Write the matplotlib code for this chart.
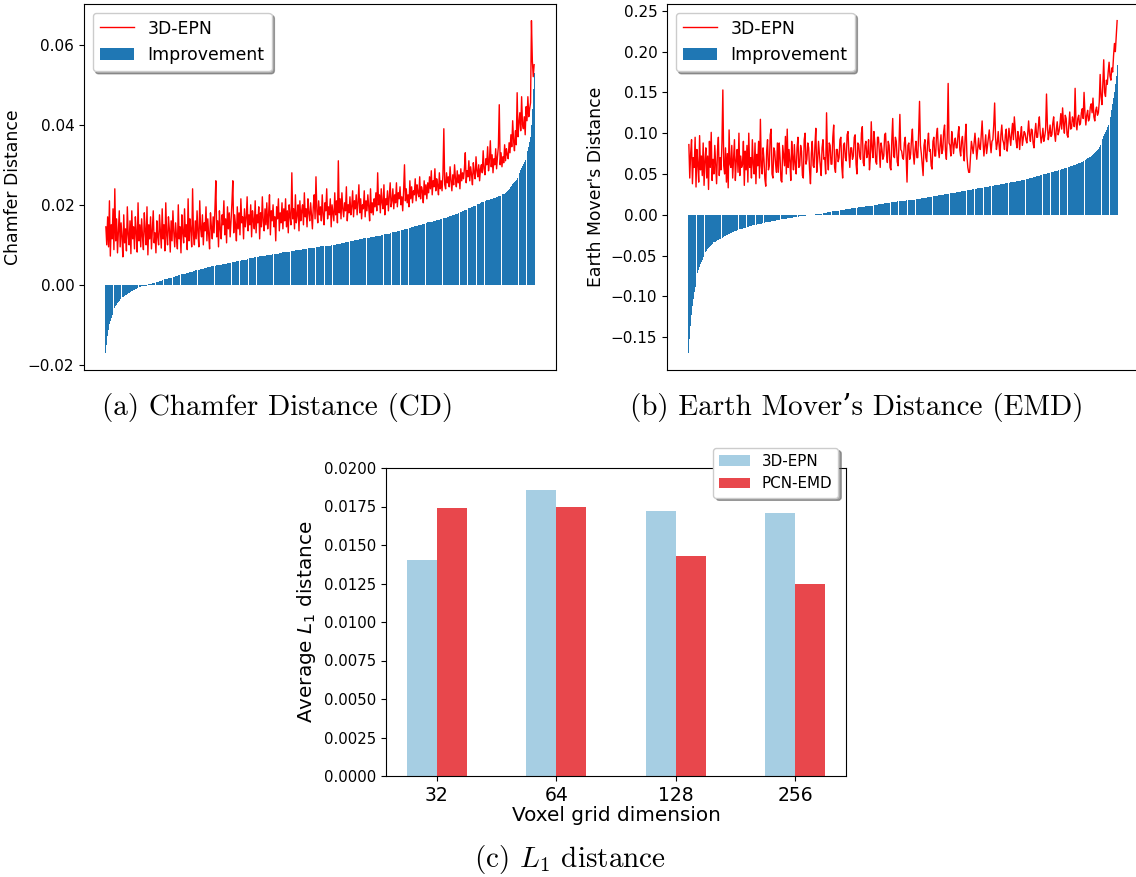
import numpy as np
import matplotlib
matplotlib.use("Agg")
import matplotlib.pyplot as plt
from matplotlib.ticker import FormatStrFormatter

# ---- Chamfer Distance: per-shape improvement (sorted) and 3D-EPN error
cd_improvement = [
    -0.0171, -0.0150, -0.0128, -0.0112, -0.0098, -0.0090, -0.0082, -0.0075, -0.0068, -0.0062, -0.0057, -0.0053, -0.0049, -0.0045, -0.0042, -0.0039, -0.0036, -0.0034, -0.0032, -0.0030,
    -0.0029, -0.0027, -0.0026, -0.0024, -0.0023, -0.0021, -0.0020, -0.0018, -0.0017, -0.0015, -0.0014, -0.0013, -0.0012, -0.0011, -0.0010, -0.0009, -0.0008, -0.0007, -0.0006, -0.0005,
    -0.0004, -0.0004, -0.0003, -0.0003, -0.0002, -0.0002, -0.0001, 0.0000, 0.0001, 0.0002, 0.0003, 0.0003, 0.0004, 0.0005, 0.0005, 0.0006, 0.0007, 0.0007, 0.0008, 0.0008,
    0.0009, 0.0009, 0.0010, 0.0011, 0.0012, 0.0013, 0.0014, 0.0014, 0.0015, 0.0015, 0.0016, 0.0016, 0.0017, 0.0017, 0.0018, 0.0019, 0.0020, 0.0020, 0.0021, 0.0022,
    0.0023, 0.0024, 0.0025, 0.0025, 0.0026, 0.0026, 0.0027, 0.0027, 0.0028, 0.0028, 0.0029, 0.0029, 0.0030, 0.0031, 0.0032, 0.0032, 0.0033, 0.0033, 0.0034, 0.0035,
    0.0036, 0.0036, 0.0037, 0.0037, 0.0038, 0.0038, 0.0039, 0.0039, 0.0040, 0.0040, 0.0041, 0.0041, 0.0042, 0.0043, 0.0044, 0.0044, 0.0045, 0.0045, 0.0046, 0.0046,
    0.0047, 0.0047, 0.0048, 0.0048, 0.0049, 0.0049, 0.0050, 0.0050, 0.0050, 0.0050, 0.0051, 0.0051, 0.0052, 0.0052, 0.0053, 0.0053, 0.0054, 0.0054, 0.0055, 0.0055,
    0.0056, 0.0056, 0.0057, 0.0057, 0.0058, 0.0058, 0.0059, 0.0059, 0.0059, 0.0059, 0.0060, 0.0060, 0.0061, 0.0061, 0.0062, 0.0062, 0.0063, 0.0063, 0.0064, 0.0065,
    0.0066, 0.0066, 0.0067, 0.0067, 0.0068, 0.0068, 0.0069, 0.0069, 0.0069, 0.0069, 0.0070, 0.0070, 0.0071, 0.0071, 0.0071, 0.0071, 0.0072, 0.0072, 0.0073, 0.0073,
    0.0074, 0.0074, 0.0075, 0.0075, 0.0075, 0.0075, 0.0076, 0.0076, 0.0077, 0.0077, 0.0077, 0.0077, 0.0078, 0.0078, 0.0079, 0.0079, 0.0080, 0.0080, 0.0081, 0.0081,
    0.0082, 0.0082, 0.0082, 0.0082, 0.0083, 0.0083, 0.0084, 0.0084, 0.0084, 0.0084, 0.0085, 0.0085, 0.0086, 0.0086, 0.0086, 0.0086, 0.0087, 0.0087, 0.0088, 0.0088,
    0.0089, 0.0089, 0.0089, 0.0089, 0.0090, 0.0090, 0.0091, 0.0091, 0.0091, 0.0091, 0.0092, 0.0092, 0.0093, 0.0093, 0.0093, 0.0093, 0.0094, 0.0094, 0.0095, 0.0095,
    0.0096, 0.0096, 0.0096, 0.0096, 0.0097, 0.0097, 0.0097, 0.0097, 0.0098, 0.0098, 0.0098, 0.0098, 0.0099, 0.0099, 0.0100, 0.0100, 0.0100, 0.0100, 0.0101, 0.0101,
    0.0102, 0.0102, 0.0103, 0.0103, 0.0104, 0.0104, 0.0105, 0.0105, 0.0106, 0.0106, 0.0107, 0.0107, 0.0108, 0.0108, 0.0109, 0.0109, 0.0110, 0.0110, 0.0111, 0.0111,
    0.0112, 0.0112, 0.0113, 0.0113, 0.0114, 0.0114, 0.0115, 0.0115, 0.0116, 0.0116, 0.0116, 0.0116, 0.0117, 0.0117, 0.0118, 0.0118, 0.0119, 0.0119, 0.0120, 0.0120,
    0.0120, 0.0120, 0.0121, 0.0121, 0.0122, 0.0122, 0.0123, 0.0123, 0.0124, 0.0124, 0.0125, 0.0125, 0.0126, 0.0126, 0.0127, 0.0127, 0.0128, 0.0128, 0.0129, 0.0130,
    0.0131, 0.0131, 0.0132, 0.0132, 0.0133, 0.0133, 0.0134, 0.0134, 0.0135, 0.0135, 0.0136, 0.0136, 0.0137, 0.0138, 0.0139, 0.0139, 0.0140, 0.0140, 0.0141, 0.0142,
    0.0143, 0.0143, 0.0144, 0.0144, 0.0145, 0.0146, 0.0147, 0.0147, 0.0148, 0.0148, 0.0149, 0.0149, 0.0150, 0.0150, 0.0151, 0.0152, 0.0153, 0.0153, 0.0154, 0.0155,
    0.0156, 0.0156, 0.0157, 0.0157, 0.0158, 0.0158, 0.0159, 0.0159, 0.0160, 0.0160, 0.0161, 0.0162, 0.0163, 0.0163, 0.0164, 0.0164, 0.0165, 0.0165, 0.0166, 0.0167,
    0.0168, 0.0168, 0.0169, 0.0170, 0.0171, 0.0171, 0.0172, 0.0173, 0.0174, 0.0174, 0.0175, 0.0176, 0.0177, 0.0178, 0.0179, 0.0180, 0.0181, 0.0182, 0.0183, 0.0184,
    0.0185, 0.0186, 0.0187, 0.0188, 0.0189, 0.0190, 0.0191, 0.0192, 0.0193, 0.0194, 0.0195, 0.0196, 0.0197, 0.0198, 0.0199, 0.0200, 0.0201, 0.0202, 0.0203, 0.0205,
    0.0206, 0.0207, 0.0208, 0.0208, 0.0209, 0.0210, 0.0211, 0.0211, 0.0212, 0.0213, 0.0214, 0.0214, 0.0215, 0.0216, 0.0217, 0.0217, 0.0218, 0.0219, 0.0220, 0.0221,
    0.0222, 0.0223, 0.0224, 0.0225, 0.0226, 0.0227, 0.0228, 0.0230, 0.0233, 0.0235, 0.0238, 0.0240, 0.0243, 0.0245, 0.0248, 0.0251, 0.0254, 0.0257, 0.0260, 0.0263,
    0.0266, 0.0270, 0.0275, 0.0280, 0.0286, 0.0292, 0.0298, 0.0303, 0.0308, 0.0313, 0.0318, 0.0326, 0.0335, 0.0345, 0.0356, 0.0370, 0.0400, 0.0440, 0.0490, 0.0530,
]

cd_epn = [
    0.0145, 0.0100, 0.0170, 0.0095, 0.0210, 0.0072, 0.0150, 0.0115, 0.0190, 0.0088, 0.0240, 0.0110, 0.0165, 0.0080, 0.0135, 0.0185, 0.0095, 0.0155, 0.0120, 0.0070,
    0.0175, 0.0105, 0.0140, 0.0085, 0.0195, 0.0125, 0.0100, 0.0160, 0.0078, 0.0185, 0.0115, 0.0145, 0.0090, 0.0170, 0.0130, 0.0082, 0.0205, 0.0110, 0.0150, 0.0095,
    0.0165, 0.0120, 0.0088, 0.0180, 0.0135, 0.0100, 0.0195, 0.0075, 0.0150, 0.0115, 0.0170, 0.0090, 0.0140, 0.0185, 0.0105, 0.0130, 0.0080, 0.0160, 0.0120, 0.0100,
    0.0175, 0.0135, 0.0092, 0.0190, 0.0115, 0.0150, 0.0085, 0.0205, 0.0125, 0.0100, 0.0170, 0.0140, 0.0082, 0.0160, 0.0110, 0.0185, 0.0130, 0.0095, 0.0155, 0.0120,
    0.0090, 0.0200, 0.0115, 0.0145, 0.0080, 0.0175, 0.0130, 0.0105, 0.0190, 0.0120, 0.0150, 0.0088, 0.0215, 0.0110, 0.0165, 0.0135, 0.0095, 0.0240, 0.0125, 0.0100,
    0.0160, 0.0115, 0.0185, 0.0130, 0.0095, 0.0210, 0.0140, 0.0120, 0.0175, 0.0100, 0.0155, 0.0135, 0.0195, 0.0110, 0.0165, 0.0125, 0.0090, 0.0180, 0.0145, 0.0115,
    0.0170, 0.0130, 0.0190, 0.0260, 0.0120, 0.0160, 0.0095, 0.0185, 0.0140, 0.0115, 0.0175, 0.0150, 0.0210, 0.0125, 0.0165, 0.0105, 0.0195, 0.0140, 0.0180, 0.0120,
    0.0160, 0.0205, 0.0260, 0.0130, 0.0175, 0.0150, 0.0110, 0.0195, 0.0140, 0.0180, 0.0125, 0.0215, 0.0155, 0.0170, 0.0115, 0.0190, 0.0145, 0.0165, 0.0220, 0.0135,
    0.0175, 0.0150, 0.0200, 0.0120, 0.0185, 0.0160, 0.0140, 0.0210, 0.0130, 0.0175, 0.0155, 0.0195, 0.0115, 0.0180, 0.0145, 0.0220, 0.0160, 0.0135, 0.0190, 0.0150,
    0.0205, 0.0140, 0.0175, 0.0225, 0.0125, 0.0185, 0.0160, 0.0200, 0.0145, 0.0170, 0.0110, 0.0195, 0.0165, 0.0215, 0.0135, 0.0180, 0.0155, 0.0205, 0.0140, 0.0190,
    0.0160, 0.0215, 0.0145, 0.0185, 0.0130, 0.0200, 0.0170, 0.0150, 0.0280, 0.0165, 0.0190, 0.0140, 0.0225, 0.0155, 0.0175, 0.0200, 0.0135, 0.0210, 0.0160, 0.0185,
    0.0200, 0.0150, 0.0230, 0.0170, 0.0190, 0.0145, 0.0215, 0.0180, 0.0160, 0.0205, 0.0175, 0.0140, 0.0195, 0.0225, 0.0165, 0.0270, 0.0185, 0.0155, 0.0210, 0.0175,
    0.0195, 0.0160, 0.0225, 0.0175, 0.0150, 0.0205, 0.0185, 0.0240, 0.0165, 0.0195, 0.0175, 0.0215, 0.0145, 0.0200, 0.0180, 0.0160, 0.0230, 0.0175, 0.0210, 0.0155,
    0.0310, 0.0180, 0.0215, 0.0165, 0.0230, 0.0190, 0.0170, 0.0205, 0.0185, 0.0245, 0.0160, 0.0200, 0.0180, 0.0220, 0.0175, 0.0195, 0.0235, 0.0170, 0.0210, 0.0190,
    0.0225, 0.0175, 0.0205, 0.0250, 0.0180, 0.0215, 0.0165, 0.0200, 0.0190, 0.0235, 0.0170, 0.0210, 0.0185, 0.0225, 0.0195, 0.0160, 0.0240, 0.0180, 0.0205, 0.0175,
    0.0215, 0.0195, 0.0230, 0.0185, 0.0280, 0.0200, 0.0225, 0.0180, 0.0240, 0.0205, 0.0190, 0.0250, 0.0175, 0.0215, 0.0200, 0.0235, 0.0185, 0.0220, 0.0255, 0.0195,
    0.0210, 0.0240, 0.0190, 0.0225, 0.0205, 0.0255, 0.0195, 0.0230, 0.0215, 0.0245, 0.0200, 0.0220, 0.0185, 0.0235, 0.0300, 0.0210, 0.0240, 0.0205, 0.0225, 0.0195,
    0.0260, 0.0215, 0.0245, 0.0205, 0.0235, 0.0225, 0.0265, 0.0210, 0.0250, 0.0230, 0.0220, 0.0270, 0.0215, 0.0245, 0.0235, 0.0205, 0.0260, 0.0225, 0.0250, 0.0215,
    0.0255, 0.0230, 0.0270, 0.0240, 0.0285, 0.0225, 0.0260, 0.0245, 0.0290, 0.0235, 0.0265, 0.0250, 0.0225, 0.0280, 0.0240, 0.0260, 0.0235, 0.0275, 0.0390, 0.0250,
    0.0240, 0.0280, 0.0255, 0.0270, 0.0245, 0.0295, 0.0260, 0.0235, 0.0275, 0.0250, 0.0300, 0.0265, 0.0245, 0.0285, 0.0255, 0.0275, 0.0240, 0.0290, 0.0260, 0.0280,
    0.0265, 0.0290, 0.0330, 0.0255, 0.0285, 0.0270, 0.0310, 0.0260, 0.0295, 0.0275, 0.0250, 0.0305, 0.0280, 0.0265, 0.0320, 0.0285, 0.0270, 0.0300, 0.0260, 0.0290,
    0.0300, 0.0280, 0.0335, 0.0290, 0.0275, 0.0315, 0.0300, 0.0345, 0.0285, 0.0310, 0.0360, 0.0295, 0.0325, 0.0280, 0.0315, 0.0300, 0.0340, 0.0290, 0.0320, 0.0345,
    0.0450, 0.0300, 0.0330, 0.0295, 0.0320, 0.0305, 0.0350, 0.0310, 0.0340, 0.0325, 0.0315, 0.0355, 0.0330, 0.0375, 0.0345, 0.0410, 0.0360, 0.0335, 0.0385, 0.0350,
    0.0480, 0.0370, 0.0405, 0.0430, 0.0385, 0.0470, 0.0400, 0.0390, 0.0420, 0.0375, 0.0445, 0.0410, 0.0470, 0.0420, 0.0440, 0.0455, 0.0660, 0.0560, 0.0520, 0.0550,
]

# ---- Earth Mover's Distance: per-shape improvement (sorted) and 3D-EPN error
emd_improvement = [
    -0.170, -0.152, -0.136, -0.123, -0.112, -0.103, -0.095, -0.089, -0.083, -0.077, -0.072, -0.068, -0.064, -0.061, -0.058, -0.055, -0.052, -0.050, -0.048, -0.046,
    -0.044, -0.0425, -0.041, -0.0395, -0.038, -0.037, -0.036, -0.035, -0.034, -0.0335, -0.033, -0.032, -0.031, -0.0305, -0.030, -0.0295, -0.029, -0.0285, -0.028, -0.027,
    -0.026, -0.0255, -0.025, -0.0245, -0.024, -0.0235, -0.023, -0.0225, -0.022, -0.0215, -0.021, -0.0205, -0.020, -0.0195, -0.019, -0.0185, -0.018, -0.018, -0.018, -0.0175,
    -0.017, -0.0165, -0.016, -0.0158, -0.0155, -0.0152, -0.015, -0.0145, -0.014, -0.0138, -0.0135, -0.0132, -0.013, -0.0128, -0.0125, -0.0122, -0.012, -0.0118, -0.0115, -0.0112,
    -0.011, -0.0108, -0.0105, -0.0102, -0.010, -0.0098, -0.0095, -0.0092, -0.009, -0.0088, -0.0086, -0.0084, -0.0082, -0.0080, -0.0078, -0.0076, -0.0074, -0.0072, -0.0070, -0.0068,
    -0.0066, -0.0064, -0.0062, -0.0060, -0.0058, -0.0056, -0.0054, -0.0052, -0.0050, -0.0048, -0.0045, -0.0044, -0.0042, -0.0040, -0.0038, -0.0036, -0.0035, -0.0033, -0.0031, -0.0030,
    -0.0028, -0.0026, -0.0025, -0.0023, -0.0021, -0.0020, -0.0018, -0.0016, -0.0015, -0.0013, -0.0012, -0.0010, -0.0009, -0.0007, -0.0006, -0.0004, -0.0003, -0.0001, 0.0000, 0.0001,
    0.0003, 0.0004, 0.0006, 0.0007, 0.0009, 0.0010, 0.0012, 0.0013, 0.0015, 0.0017, 0.0019, 0.0021, 0.0023, 0.0025, 0.0027, 0.0029, 0.0031, 0.0033, 0.0035, 0.0036,
    0.0038, 0.0040, 0.0041, 0.0043, 0.0044, 0.0046, 0.0048, 0.0050, 0.0052, 0.0054, 0.0056, 0.0058, 0.0060, 0.0062, 0.0064, 0.0066, 0.0068, 0.0070, 0.0072, 0.0073,
    0.0075, 0.0076, 0.0078, 0.0079, 0.0081, 0.0082, 0.0084, 0.0085, 0.0087, 0.0088, 0.0090, 0.0091, 0.0093, 0.0094, 0.0096, 0.0098, 0.0100, 0.0101, 0.0103, 0.0104,
    0.0106, 0.0107, 0.0109, 0.0110, 0.0112, 0.0113, 0.0115, 0.0117, 0.0119, 0.0121, 0.0123, 0.0124, 0.0126, 0.0128, 0.0130, 0.0132, 0.0134, 0.0135, 0.0137, 0.0139,
    0.0141, 0.0142, 0.0144, 0.0146, 0.0148, 0.0149, 0.0151, 0.0153, 0.0155, 0.0156, 0.0158, 0.0160, 0.0162, 0.0163, 0.0164, 0.0165, 0.0167, 0.0168, 0.0169, 0.0170,
    0.0171, 0.0172, 0.0174, 0.0175, 0.0176, 0.0177, 0.0178, 0.0179, 0.0180, 0.0181, 0.0183, 0.0184, 0.0186, 0.0188, 0.0190, 0.0191, 0.0193, 0.0195, 0.0197, 0.0198,
    0.0200, 0.0201, 0.0203, 0.0205, 0.0207, 0.0208, 0.0210, 0.0212, 0.0214, 0.0216, 0.0218, 0.0220, 0.0222, 0.0224, 0.0226, 0.0228, 0.0230, 0.0232, 0.0234, 0.0236,
    0.0238, 0.0240, 0.0242, 0.0244, 0.0246, 0.0248, 0.0250, 0.0251, 0.0253, 0.0255, 0.0257, 0.0258, 0.0260, 0.0262, 0.0264, 0.0266, 0.0268, 0.0270, 0.0272, 0.0274,
    0.0276, 0.0278, 0.0280, 0.0282, 0.0284, 0.0286, 0.0288, 0.0290, 0.0292, 0.0294, 0.0296, 0.0298, 0.0300, 0.0302, 0.0304, 0.0306, 0.0308, 0.0310, 0.0312, 0.0314,
    0.0316, 0.0318, 0.0320, 0.0322, 0.0324, 0.0326, 0.0328, 0.0330, 0.0332, 0.0334, 0.0336, 0.0338, 0.0340, 0.0342, 0.0344, 0.0346, 0.0348, 0.0350, 0.0352, 0.0354,
    0.0356, 0.0358, 0.0360, 0.0362, 0.0364, 0.0366, 0.0368, 0.0370, 0.0372, 0.0374, 0.0376, 0.0378, 0.0380, 0.0382, 0.0384, 0.0386, 0.0388, 0.0390, 0.0392, 0.0394,
    0.0396, 0.0398, 0.0400, 0.0402, 0.0404, 0.0406, 0.0408, 0.0410, 0.0412, 0.0414, 0.0416, 0.0418, 0.0420, 0.0423, 0.0426, 0.0429, 0.0432, 0.0435, 0.0438, 0.0441,
    0.0444, 0.0447, 0.0450, 0.0453, 0.0456, 0.0459, 0.0462, 0.0465, 0.0468, 0.0471, 0.0474, 0.0477, 0.0480, 0.0483, 0.0486, 0.0489, 0.0492, 0.0495, 0.0498, 0.0501,
    0.0504, 0.0507, 0.0510, 0.0513, 0.0516, 0.0519, 0.0522, 0.0525, 0.0528, 0.0531, 0.0534, 0.0537, 0.0540, 0.0544, 0.0547, 0.0551, 0.0554, 0.0558, 0.0561, 0.0565,
    0.0568, 0.0572, 0.0575, 0.0579, 0.0582, 0.0586, 0.0589, 0.0593, 0.0596, 0.0600, 0.0604, 0.0608, 0.0612, 0.0616, 0.0620, 0.0625, 0.0630, 0.0635, 0.0640, 0.0646,
    0.0652, 0.0658, 0.0664, 0.0670, 0.0676, 0.0683, 0.0690, 0.0697, 0.0705, 0.0712, 0.0720, 0.0730, 0.0740, 0.0750, 0.0760, 0.0772, 0.0785, 0.0797, 0.0810, 0.0830,
    0.0850, 0.0875, 0.0900, 0.0930, 0.0960, 0.0985, 0.1010, 0.1040, 0.1070, 0.1095, 0.1120, 0.1160, 0.1200, 0.1280, 0.1360, 0.1430, 0.1500, 0.1600, 0.1700, 0.1830,
]

emd_epn = [
    0.086, 0.045, 0.075, 0.092, 0.038, 0.070, 0.058, 0.095, 0.034, 0.080, 0.062, 0.040, 0.097, 0.055, 0.072, 0.048, 0.088, 0.036, 0.066, 0.082,
    0.045, 0.072, 0.031, 0.090, 0.058, 0.101, 0.042, 0.068, 0.050, 0.085, 0.060, 0.038, 0.078, 0.095, 0.048, 0.070, 0.055, 0.088, 0.153, 0.060,
    0.050, 0.082, 0.040, 0.075, 0.033, 0.104, 0.062, 0.058, 0.085, 0.045, 0.070, 0.092, 0.042, 0.066, 0.080, 0.052, 0.100, 0.048, 0.072, 0.058,
    0.062, 0.090, 0.036, 0.078, 0.055, 0.085, 0.040, 0.100, 0.058, 0.070, 0.045, 0.092, 0.062, 0.050, 0.088, 0.038, 0.074, 0.060, 0.090, 0.045,
    0.117, 0.060, 0.050, 0.082, 0.068, 0.044, 0.035, 0.078, 0.092, 0.055, 0.060, 0.098, 0.105, 0.050, 0.045, 0.082, 0.078, 0.062, 0.052, 0.088,
    0.052, 0.088, 0.070, 0.042, 0.040, 0.085, 0.072, 0.060, 0.096, 0.050, 0.105, 0.058, 0.080, 0.065, 0.042, 0.090, 0.070, 0.055, 0.086, 0.062,
    0.050, 0.082, 0.095, 0.058, 0.060, 0.085, 0.078, 0.048, 0.045, 0.092, 0.100, 0.062, 0.068, 0.088, 0.082, 0.055, 0.038, 0.075, 0.090, 0.060,
    0.058, 0.085, 0.106, 0.052, 0.065, 0.090, 0.075, 0.060, 0.048, 0.082, 0.092, 0.068, 0.070, 0.050, 0.125, 0.072, 0.055, 0.088, 0.085, 0.062,
    0.062, 0.095, 0.110, 0.058, 0.052, 0.080, 0.080, 0.065, 0.070, 0.092, 0.095, 0.060, 0.045, 0.085, 0.088, 0.070, 0.066, 0.098, 0.102, 0.075,
    0.058, 0.082, 0.082, 0.068, 0.072, 0.095, 0.098, 0.062, 0.050, 0.088, 0.086, 0.072, 0.068, 0.100, 0.108, 0.064, 0.060, 0.085, 0.090, 0.070,
    0.075, 0.092, 0.055, 0.070, 0.114, 0.080, 0.070, 0.102, 0.088, 0.065, 0.062, 0.095, 0.095, 0.078, 0.058, 0.088, 0.080, 0.068, 0.072, 0.098,
    0.100, 0.075, 0.064, 0.090, 0.085, 0.058, 0.055, 0.092, 0.118, 0.072, 0.070, 0.095, 0.090, 0.065, 0.060, 0.085, 0.123, 0.080, 0.078, 0.070,
    0.068, 0.088, 0.095, 0.072, 0.040, 0.085, 0.088, 0.068, 0.074, 0.092, 0.105, 0.075, 0.062, 0.080, 0.090, 0.070, 0.070, 0.100, 0.139, 0.085,
    0.075, 0.062, 0.048, 0.085, 0.092, 0.070, 0.065, 0.088, 0.100, 0.078, 0.080, 0.060, 0.056, 0.090, 0.095, 0.072, 0.072, 0.098, 0.106, 0.080,
    0.070, 0.085, 0.098, 0.075, 0.080, 0.102, 0.110, 0.078, 0.068, 0.095, 0.161, 0.088, 0.085, 0.072, 0.102, 0.090, 0.075, 0.088, 0.094, 0.082,
    0.082, 0.098, 0.108, 0.080, 0.072, 0.090, 0.096, 0.078, 0.066, 0.095, 0.111, 0.072, 0.058, 0.052, 0.052, 0.070, 0.090, 0.082, 0.075, 0.088,
    0.100, 0.085, 0.068, 0.080, 0.094, 0.082, 0.080, 0.098, 0.115, 0.090, 0.072, 0.085, 0.098, 0.075, 0.085, 0.095, 0.104, 0.088, 0.076, 0.090,
    0.092, 0.110, 0.137, 0.095, 0.080, 0.088, 0.102, 0.085, 0.072, 0.098, 0.110, 0.092, 0.088, 0.080, 0.098, 0.105, 0.078, 0.090, 0.106, 0.095,
    0.085, 0.100, 0.112, 0.092, 0.120, 0.105, 0.090, 0.082, 0.102, 0.095, 0.080, 0.098, 0.108, 0.085, 0.094, 0.102, 0.100, 0.092, 0.088, 0.100,
    0.115, 0.098, 0.090, 0.105, 0.104, 0.088, 0.082, 0.100, 0.112, 0.095, 0.095, 0.110, 0.120, 0.100, 0.088, 0.095, 0.106, 0.090, 0.096, 0.104,
    0.148, 0.110, 0.092, 0.100, 0.110, 0.096, 0.098, 0.112, 0.120, 0.100, 0.090, 0.105, 0.114, 0.098, 0.102, 0.110, 0.124, 0.105, 0.131, 0.112,
    0.100, 0.122, 0.118, 0.098, 0.095, 0.110, 0.126, 0.105, 0.106, 0.120, 0.116, 0.108, 0.155, 0.112, 0.104, 0.118, 0.122, 0.110, 0.112, 0.125,
    0.130, 0.118, 0.150, 0.125, 0.110, 0.122, 0.128, 0.115, 0.118, 0.132, 0.136, 0.125, 0.143, 0.120, 0.115, 0.128, 0.132, 0.122, 0.125, 0.138,
    0.172, 0.145, 0.135, 0.160, 0.190, 0.150, 0.145, 0.165, 0.160, 0.175, 0.187, 0.170, 0.165, 0.180, 0.175, 0.195, 0.210, 0.200, 0.220, 0.238,
]

# ---- Average L1 distance vs. voxel grid dimension
grid_dims = ["32", "64", "128", "256"]
l1_epn = [0.0140, 0.0186, 0.0172, 0.0171]
l1_pcn = [0.0174, 0.0175, 0.0143, 0.0125]

W, H = 1136, 877
fig = plt.figure(figsize=(W / 100, H / 100), dpi=100)


def px_axes(left, top, right, bottom):
    return fig.add_axes([left / W, 1 - bottom / H, (right - left) / W, (bottom - top) / H])


def sorted_panel(ax, improvement, epn, ylabel):
    bars = ax.bar(np.arange(len(improvement)), improvement, width=0.92,
                  color="#1f77b4", linewidth=0)
    line, = ax.plot(np.arange(len(epn)), epn, color="red", linewidth=1.0)
    ax.set_xticks([])
    ax.tick_params(axis="y", labelsize=11)
    ax.set_ylabel(ylabel, fontsize=12.4)
    ax.legend([line, bars], ["3D-EPN", "Improvement"], loc="upper left",
              fontsize=12.4, shadow=True, fancybox=True)


ax_a = px_axes(84, 4, 556, 370)
sorted_panel(ax_a, cd_improvement, cd_epn, "Chamfer Distance")

ax_b = px_axes(667, 4, 1139, 370)
sorted_panel(ax_b, emd_improvement, emd_epn, "Earth Mover's Distance")

# grouped bars for the L1 comparison
ax_c = px_axes(386, 468, 846, 776)
xc = np.arange(len(grid_dims))
bw = 0.25
ax_c.bar(xc - bw / 2, l1_epn, width=bw, color="#a6cee3", label="3D-EPN")
ax_c.bar(xc + bw / 2, l1_pcn, width=bw, color="#e8474c", label="PCN-EMD")
ax_c.set_ylim(0, 0.02)
ax_c.set_yticks(np.arange(0, 0.02001, 0.0025))
ax_c.yaxis.set_major_formatter(FormatStrFormatter("%.4f"))
ax_c.set_xticks(xc)
ax_c.set_xticklabels(grid_dims, fontsize=13.5)
ax_c.tick_params(axis="y", labelsize=10.7)
ax_c.set_xlabel("Voxel grid dimension", fontsize=14.4, labelpad=1)
ax_c.set_ylabel("Average $L_1$ distance", fontsize=14.4)
ax_c.legend(loc="upper right", bbox_to_anchor=(1.0, 1.09), fontsize=10.9,
            shadow=True, fancybox=True)

# sub-figure captions
cap = dict(ha="center", va="center", fontsize=21,
           family=["cmr10", "DejaVu Serif"], math_fontfamily="cm")
fig.text(278 / W, 1 - 407 / H, "(a) Chamfer Distance (CD)", **cap)
fig.text(857 / W, 1 - 407 / H, "(b) Earth Mover\u2019s Distance (EMD)", **cap)
fig.text(570 / W, 1 - 860 / H, "(c) $L_1$ distance", **cap)

fig.savefig("out.png", dpi=100)
